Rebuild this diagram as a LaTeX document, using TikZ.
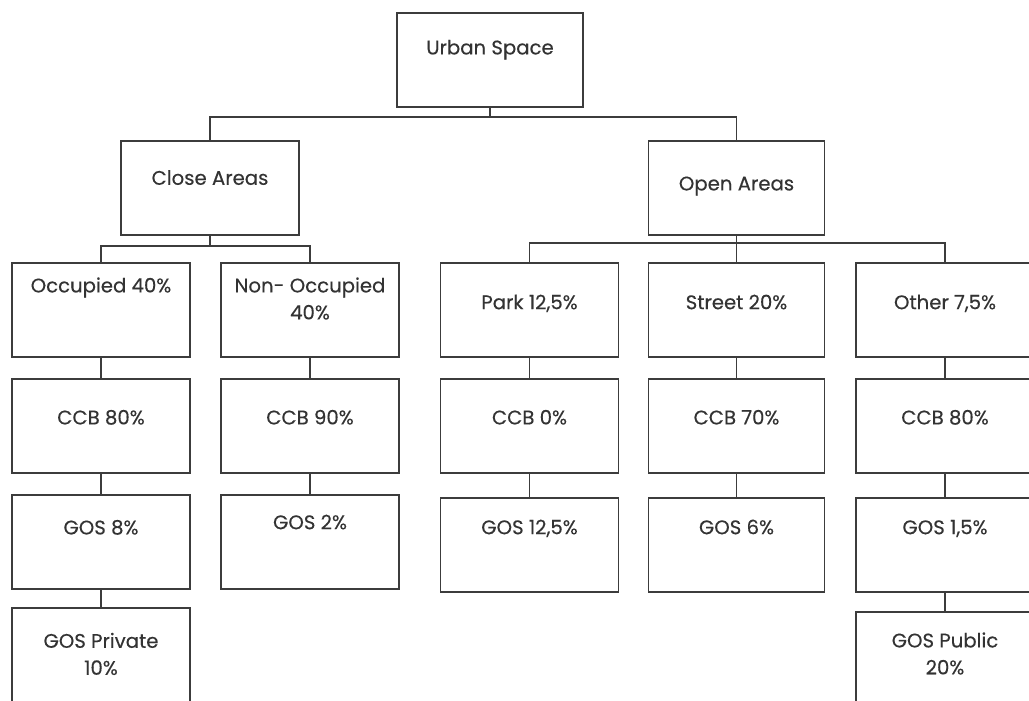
\documentclass[tikz,border=0pt]{standalone}
\usepackage{fontspec}
\setmainfont{Poppins}[FakeBold=0.3]
\usepackage{tikz}

\definecolor{boxline}{HTML}{3C3C3C}
\definecolor{boxtext}{HTML}{333333}

\begin{document}
\begin{tikzpicture}[x=0.025cm, y=-0.025cm,
    box/.style={draw=boxline, line width=1.1pt, minimum width=4.45cm, inner xsep=0pt, inner ysep=0pt,
      anchor=north, align=center, text=boxtext, font=\fontsize{14}{19.2}\selectfont,
      text height=#1, text depth=2.35cm-#1},
    link/.style={draw=boxline, line width=1.1pt}]
    \useasboundingbox (0,0) rectangle (1029,700);
    \fill[white] (0,0) rectangle (1029,700);

    \node[box=1.04cm, minimum width=4.65cm] (us) at (490,12) {Urban Space};

    \node[box=1.1cm] (close) at (210,140) {Close Areas};
    \node[box=1.24cm, minimum width=4.4cm] (open) at (736.5,140) {Open Areas};

    \node[box=0.74cm] (occ) at (101,262) {Occupied 40\%};
    \node[box=1.415cm] (nocc) at (310,262) {Non- Occupied\\40\%};
    \node[box=1.16cm] (park) at (529.5,262) {Park 12,5\%};
    \node[box=1.16cm, minimum width=4.4cm] (street) at (736.5,262) {Street 20\%};
    \node[box=1.16cm] (other) at (945,262) {Other 7,5\%};

    \node[box=1.14cm] (occccb) at (101,378) {CCB 80\%};
    \node[box=1.14cm] (noccccb) at (310,378) {CCB 90\%};
    \node[box=1.14cm] (parkccb) at (529.5,378) {CCB 0\%};
    \node[box=1.14cm, minimum width=4.4cm] (streetccb) at (736.5,378) {CCB 70\%};
    \node[box=1.14cm] (otherccb) at (945,378) {CCB 80\%};

    \node[box=0.99cm] (occgos) at (101,494) {GOS 8\%};
    \node[box=0.86cm] (noccgos) at (310,494) {GOS 2\%};
    \node[box=0.91cm] (parkgos) at (529.5,497) {GOS 12,5\%};
    \node[box=0.91cm, minimum width=4.4cm] (streetgos) at (736.5,497) {GOS 6\%};
    \node[box=0.91cm] (othergos) at (945,497) {GOS 1,5\%};

    \node[box=1.675cm] (occpriv) at (101,607) {GOS Private\\10\%};
    \node[box=1.565cm] (otherpub) at (945,611) {GOS Public\\20\%};

    \coordinate (b0) at (490,117);
    \coordinate (b1) at (210,246);
    \coordinate (b2) at (736.5,243);

    \draw[link] (us.south) -- (b0);
    \draw[link] (close.north) |- (b0) -| (open.north);
    \draw[link] (close.south) -- (b1);
    \draw[link] (occ.north) |- (b1) -| (nocc.north);
    \draw[link] (open.south) -- (street.north);
    \draw[link] (park.north) |- (b2) -| (other.north);

    \draw[link] (occ) -- (occccb);
    \draw[link] (nocc) -- (noccccb);
    \draw[link] (park) -- (parkccb);
    \draw[link] (street) -- (streetccb);
    \draw[link] (other) -- (otherccb);
    \draw[link] (occccb) -- (occgos);
    \draw[link] (noccccb) -- (noccgos);
    \draw[link] (parkccb) -- (parkgos);
    \draw[link] (streetccb) -- (streetgos);
    \draw[link] (otherccb) -- (othergos);
    \draw[link] (occgos) -- (occpriv);
    \draw[link] (othergos) -- (otherpub);
\end{tikzpicture}
\end{document}
